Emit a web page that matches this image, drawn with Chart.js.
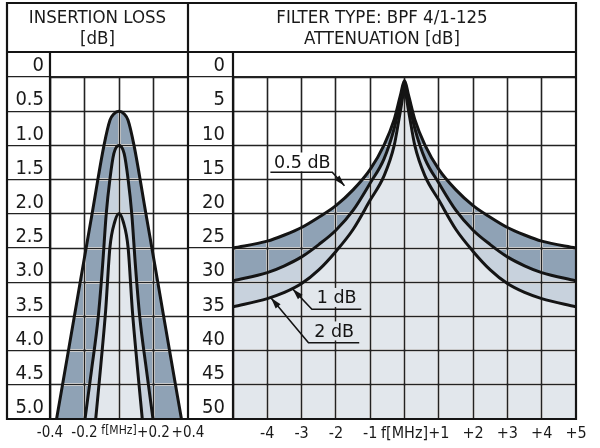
<!DOCTYPE html>
<html><head><meta charset="utf-8">
<script src="https://cdn.jsdelivr.net/npm/chart.js@4.4.1/dist/chart.umd.min.js"></script>
<style>
html,body{margin:0;padding:0;background:#fff;width:600px;height:448px;overflow:hidden}
#wrap{position:relative;width:600px;height:448px}
canvas{position:absolute;left:0;top:0}
.hd{position:absolute;text-align:center;font-family:'DejaVu Sans Condensed','Liberation Sans Narrow',sans-serif;font-size:18.5px;line-height:21px;color:#1a1a1a}
</style></head><body>
<div id="wrap">
<canvas id="c1" width="600" height="448"></canvas>
<canvas id="c2" width="600" height="448"></canvas>
<div class="hd" style="left:7px;width:181px;top:6px">INSERTION LOSS<br>[dB]</div>
<div class="hd" style="left:188px;width:388px;top:6px">FILTER TYPE: BPF 4/1-125<br>ATTENUATION [dB]</div>
</div>
<script>
// ---------- data ----------
const lossTicks = ['0','0.5','1.0','1.5','2.0','2.5','3.0','3.5','4.0','4.5','5.0'];
const lossFreqTicks = ['-0.4','-0.2','f[MHz]','+0.2','+0.4'];
const attTicks = ['0','5','10','15','20','25','30','35','40','45','50'];
const attFreqTicks = ['','-4','-3','-2','-1','f[MHz]','+1','+2','+3','+4','+5'];

// insertion loss curves (left panel): frequency offset [MHz] and loss [dB]
const lossFreq05 = [-0.362,-0.293,-0.225,-0.156,-0.087,-0.052,-0.03,0,0.03,0.052,0.087,0.156,0.225,0.293,0.362];
const loss05     = [5.0,4.0,3.0,2.0,1.0,0.63,0.54,0.5,0.54,0.63,1.0,2.0,3.0,4.0,5.0];
const lossFreq1  = [-0.197,-0.16,-0.12,-0.095,-0.074,-0.053,-0.03,0,0.03,0.053,0.074,0.095,0.12,0.16,0.197];
const loss1      = [5.0,4.3,3.5,2.75,2.0,1.5,1.12,1.0,1.12,1.5,2.0,2.75,3.5,4.3,5.0];
const lossFreq2  = [-0.135,-0.105,-0.077,-0.053,-0.025,0,0.025,0.053,0.077,0.105,0.135];
const loss2      = [5.0,4.2,3.4,2.5,2.12,2.0,2.12,2.5,3.4,4.2,5.0];

// attenuation curves (right panel)
const attFreq = [-5,-4,-3.5,-3,-2.5,-2,-1.5,-1,-0.6,-0.3,-0.12,0,0.12,0.3,0.6,1,1.5,2,2.5,3,3.5,4,5];
const att05 = [25,24,23.1,22,20.5,18.8,16.5,13.5,10,6.2,2.7,0.5,2.7,6.2,10,13.5,16.5,18.8,20.5,22,23.1,24,25];
const att1  = [29.8,28.6,27.6,26.3,24.5,22.4,19.5,15.5,12,7.5,3.5,1,3.5,7.5,12,15.5,19.5,22.4,24.5,26.3,27.6,28.6,29.8];
const att2  = [33.6,32.4,31.5,30.2,28.2,25.5,22.3,18,14.5,10,5,2,5,10,14.5,18,22.3,25.5,28.2,30.2,31.5,32.4,33.6];

const seriesNames = ['2 dB','1 dB','0.5 dB'];
const noteLabels = ['0.5 dB','1 dB','2 dB'];

// ---------- styles ----------
const FILL_DARK = '#8fa2b5', FILL_MID = '#c8d2dd', FILL_LIGHT = '#e2e7ec';
const INK = '#141414', GRID = '#222222';
const NARROW = "'DejaVu Sans Condensed','Liberation Sans Narrow',sans-serif";
const REG = "'DejaVu Sans','Liberation Sans',sans-serif";

function pts(xs, ys){ return xs.map((x,i)=>({x:x, y:ys[i]})); }
function ds(label, xs, ys, fillColor){
  return {label, data: pts(xs,ys), borderColor: INK, borderWidth: 3, pointRadius: 0,
    cubicInterpolationMode: 'monotone', fill: 'start', backgroundColor: fillColor};
}
function pc(p){ return Math.round(p - 0.5) + 0.5; }

const haloGrid = {
  id: 'haloGrid',
  beforeDatasetsDraw(chart){
    const {ctx, chartArea:a, scales:{x,y}} = chart;
    ctx.save();
    ctx.beginPath(); ctx.rect(a.left, a.top, a.right-a.left, a.bottom-a.top); ctx.clip();
    const xs = x.ticks.map(t=>pc(x.getPixelForValue(t.value)));
    const ys = y.ticks.map(t=>pc(y.getPixelForValue(t.value)));
    [['#ffffff',3.0],[GRID,1.6]].forEach(([c,w])=>{
      ctx.strokeStyle = c; ctx.lineWidth = w; ctx.beginPath();
      xs.forEach(q=>{ ctx.moveTo(q,a.top); ctx.lineTo(q,a.bottom); });
      ys.forEach(q=>{ ctx.moveTo(a.left,q); ctx.lineTo(a.right,q); });
      ctx.stroke();
    });
    ctx.restore();
  }
};

function scalesFor(xMin,xMax,xStep,xLabels,yMax,yStep,yLabels,yWidth,small){
  return {
    x: {type:'linear', min:xMin, max:xMax,
      grid:{color:GRID, lineWidth:1.3, drawTicks:false},
      border:{display:true, color:INK, width:2},
      afterFit: s => { s.height = 29; },
      ticks:{stepSize:xStep, autoSkip:false, maxRotation:0, padding:5, color:'#1a1a1a',
        font: c => ({family:NARROW, size: small ? ((c.tick && Math.abs(c.tick.value) < 1e-9) ? 12 : 15) : 16}),
        callback:(v)=>xLabels[Math.round((v - xMin)/xStep)]}},
    y: {type:'linear', min:0, max:yMax, reverse:true,
      grid:{color:GRID, lineWidth:1.3, drawTicks:true, tickLength:yWidth, tickColor:GRID, tickWidth:1.3},
      border:{display:true, color:INK, width:2},
      afterFit: s => { s.width = yWidth; },
      ticks:{stepSize:yStep, autoSkip:false, padding:-37, labelOffset:-11, color:'#1a1a1a',
        font:{family:NARROW, size:20}, callback:(v)=>yLabels[Math.round(v/yStep)]}}
  };
}

const common = {
  responsive:false, animation:false, events:[],
  plugins:{legend:{display:false}, tooltip:{enabled:false}, filler:{drawTime:'beforeDatasetsDraw'}}
};

const chart1 = new Chart(document.getElementById('c1'), {
  type:'line',
  data:{datasets:[
    ds(seriesNames[0], lossFreq2, loss2, FILL_LIGHT),
    ds(seriesNames[1], lossFreq1, loss1, FILL_MID),
    ds(seriesNames[2], lossFreq05, loss05, FILL_DARK)
  ]},
  options: Object.assign({}, common, {
    layout:{padding:{left:7, right:412, top:77, bottom:0}},
    scales: scalesFor(-0.4,0.4,0.2,lossFreqTicks,5,0.5,lossTicks,43,true)
  }),
  plugins:[haloGrid]
});

// annotation placement in data units (MHz, dB)
const noteAt = [[-2.98,12.5],[-1.98,32.3],[-2.05,37.2]];
const noteBg = ['#ffffff', FILL_LIGHT, FILL_LIGHT];
const notePath = [
  [[-3.91,13.93],[-2.105,13.93],[-1.75,15.9]],
  [[-1.26,33.96],[-2.70,33.96],[-3.26,31.0]],
  [[-1.32,38.85],[-2.80,38.85],[-3.89,32.3]]
];

const notes = {
  id:'notes',
  afterDatasetsDraw(chart){
    const {ctx, scales:{x,y}} = chart;
    ctx.save();
    ctx.font = '17.5px ' + REG;
    ctx.textAlign = 'center'; ctx.textBaseline = 'middle';
    noteLabels.forEach((t,i)=>{
      const px = x.getPixelForValue(noteAt[i][0]), py = y.getPixelForValue(noteAt[i][1]);
      const w = ctx.measureText(t).width;
      ctx.fillStyle = noteBg[i];
      ctx.fillRect(px - w/2 - 3, py - 10, w + 6, 19);
      ctx.fillStyle = INK;
      ctx.fillText(t, px, py + 1);
      const p = notePath[i].map(q=>[x.getPixelForValue(q[0]), y.getPixelForValue(q[1])]);
      ctx.strokeStyle = INK; ctx.lineWidth = 1.6; ctx.beginPath();
      ctx.moveTo(p[0][0], p[0][1]);
      for (let k=1;k<p.length;k++) ctx.lineTo(p[k][0], p[k][1]);
      ctx.stroke();
      const [ax,ay] = p[p.length-1], [bx,by] = p[p.length-2];
      const ang = Math.atan2(ay-by, ax-bx), L = 11, H = 3.2;
      ctx.beginPath();
      ctx.moveTo(ax, ay);
      ctx.lineTo(ax - L*Math.cos(ang) + H*Math.sin(ang), ay - L*Math.sin(ang) - H*Math.cos(ang));
      ctx.lineTo(ax - L*Math.cos(ang) - H*Math.sin(ang), ay - L*Math.sin(ang) + H*Math.cos(ang));
      ctx.closePath(); ctx.fillStyle = INK; ctx.fill();
    });
    ctx.restore();
  }
};

const frame = {
  id:'frame',
  afterDraw(chart){
    const ctx = chart.ctx, a1 = chart1.chartArea, a2 = chart.chartArea;
    const top = 3, head = 52, left = 7, right = a2.right, bottom = a2.bottom;
    ctx.save();
    ctx.strokeStyle = INK; ctx.lineWidth = 2.2; ctx.lineCap = 'square';
    ctx.beginPath();
    ctx.rect(left, top, right-left, bottom-top);
    ctx.moveTo(left, head); ctx.lineTo(right, head);
    ctx.moveTo(a1.right, top); ctx.lineTo(a1.right, bottom);
    ctx.moveTo(a1.left, head); ctx.lineTo(a1.left, bottom);
    ctx.moveTo(a2.left, head); ctx.lineTo(a2.left, bottom);
    ctx.stroke();
    ctx.restore();
  }
};

const chart2 = new Chart(document.getElementById('c2'), {
  type:'line',
  data:{datasets:[
    ds(seriesNames[0], attFreq, att2, FILL_LIGHT),
    ds(seriesNames[1], attFreq, att1, FILL_MID),
    ds(seriesNames[2], attFreq, att05, FILL_DARK)
  ]},
  options: Object.assign({}, common, {
    layout:{padding:{left:188, right:24, top:77, bottom:0}},
    scales: scalesFor(-5,5,1,attFreqTicks,50,5,attTicks,45,false)
  }),
  plugins:[haloGrid, notes, frame]
});
</script>
</body></html>
